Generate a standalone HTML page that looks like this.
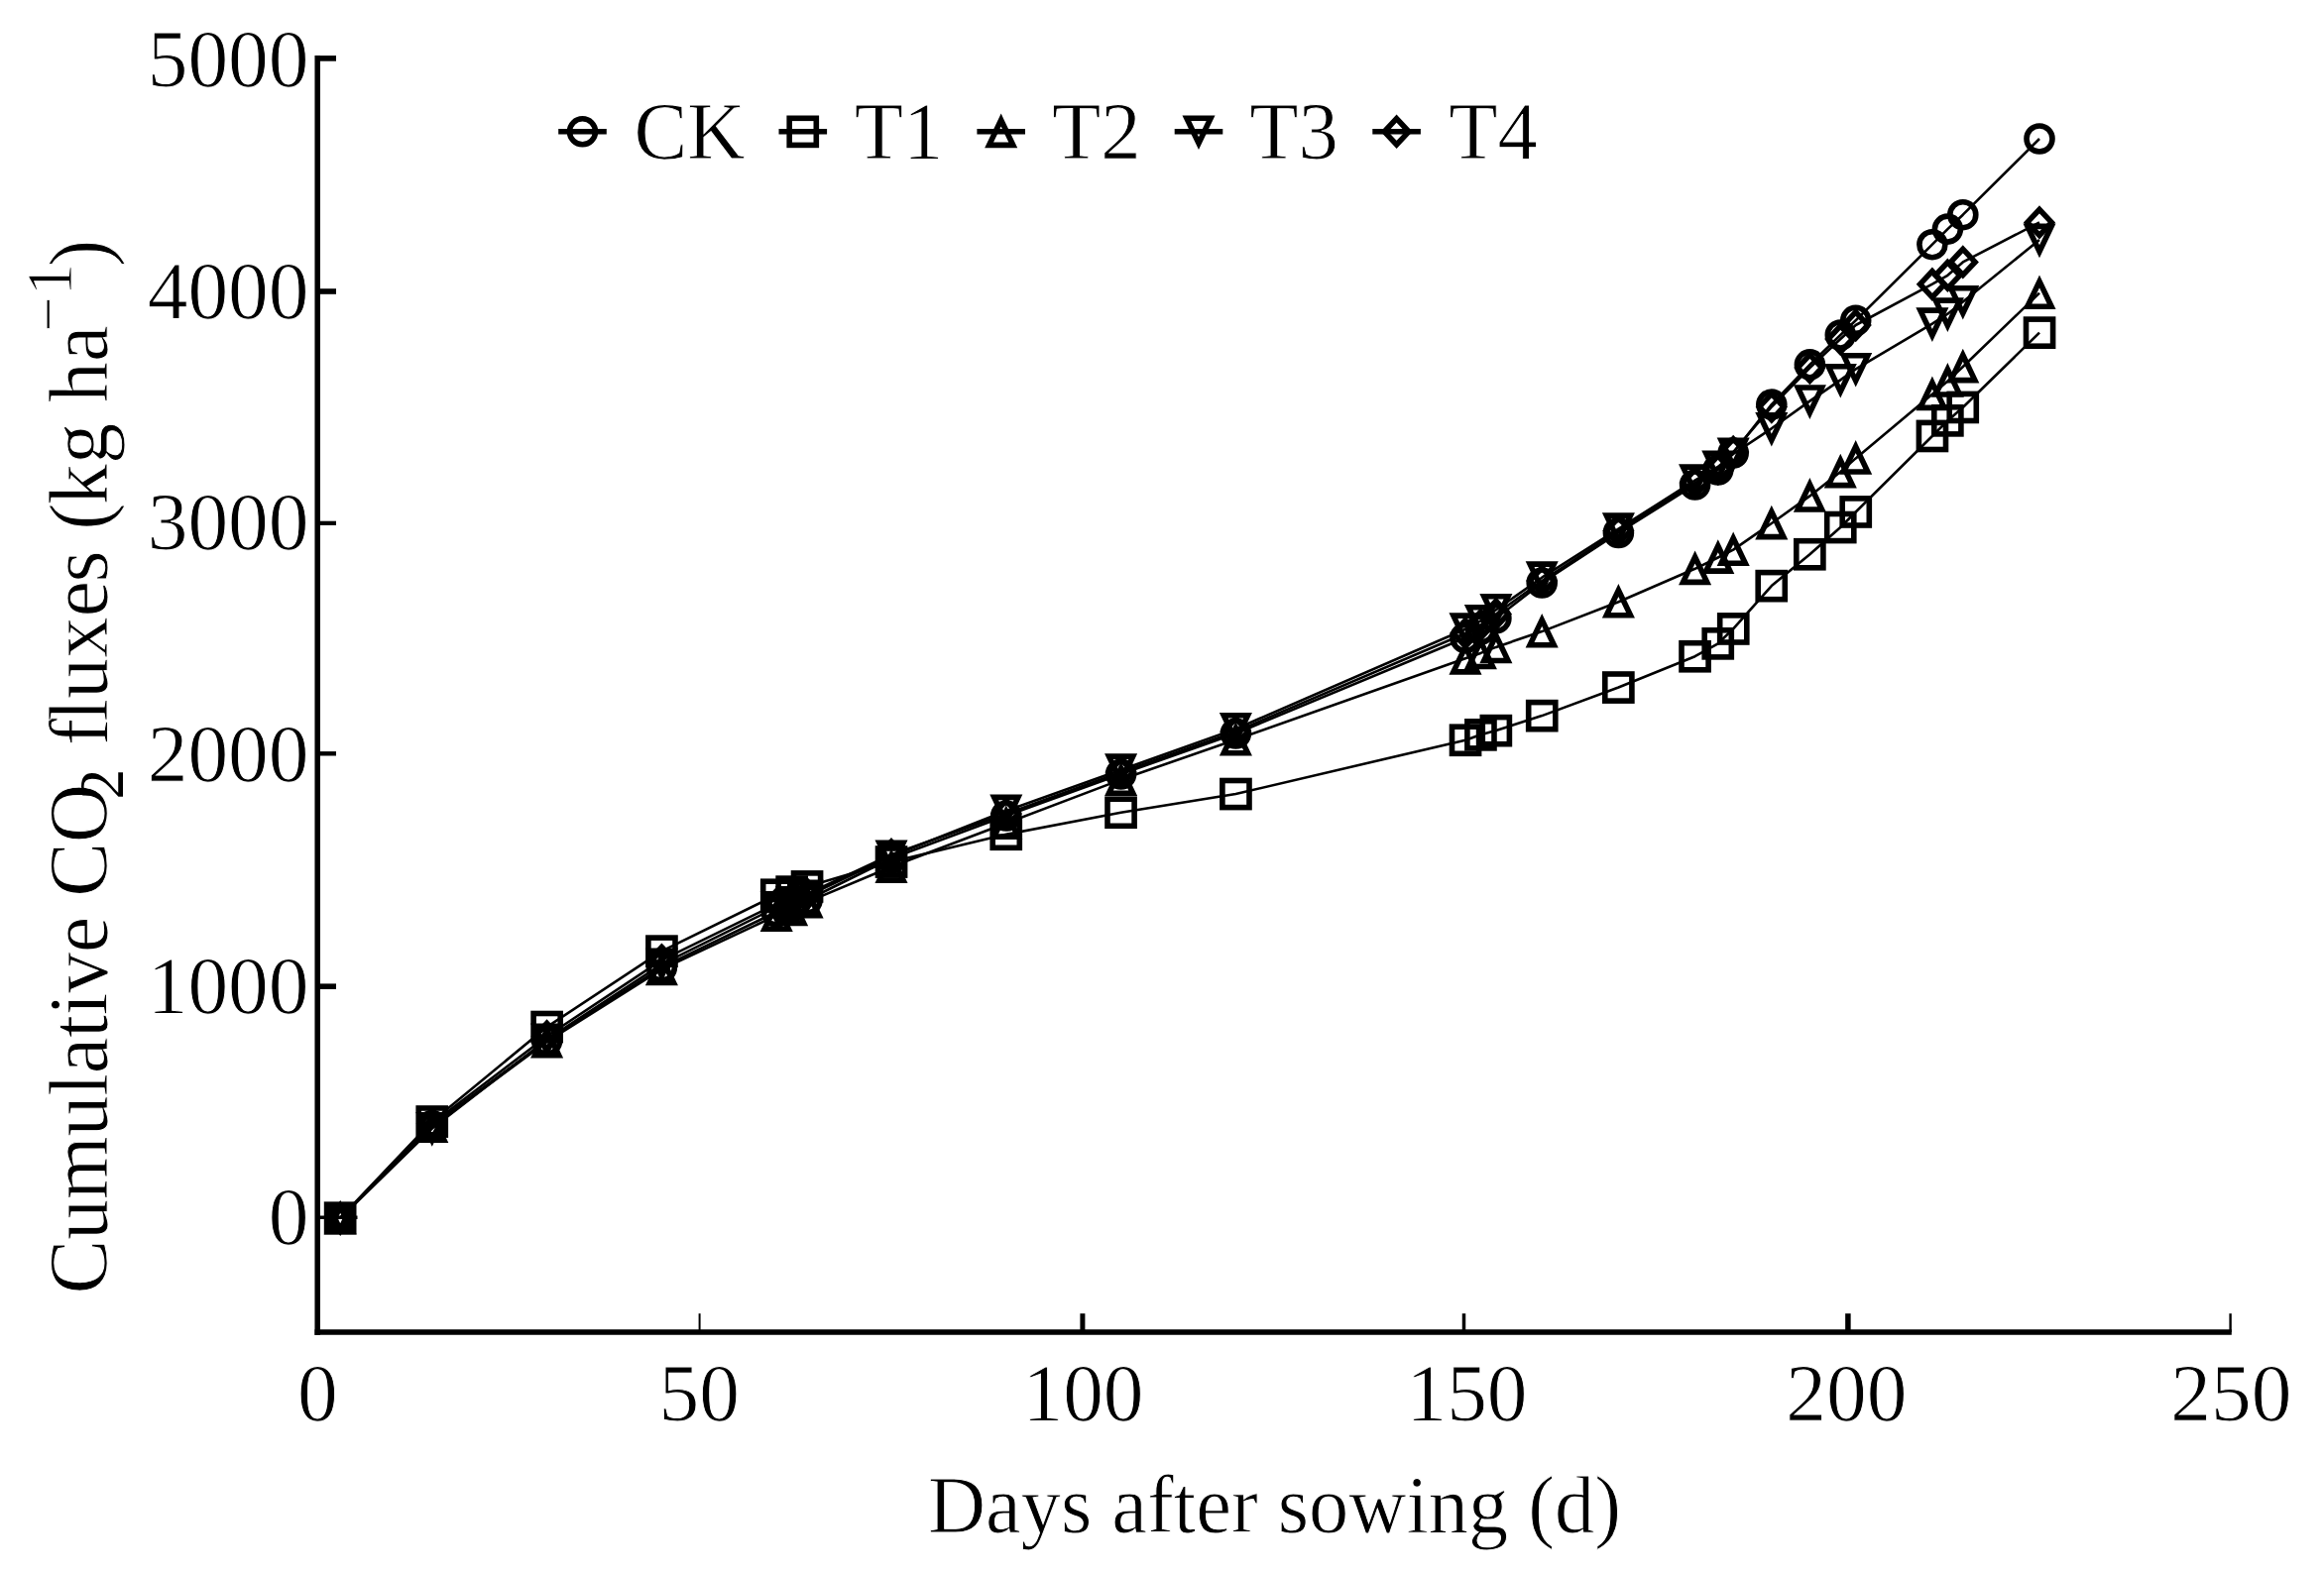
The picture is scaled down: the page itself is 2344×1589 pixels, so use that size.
<!DOCTYPE html>
<html lang="en"><head><meta charset="utf-8"><title>Cumulative CO2 fluxes</title>
<style>
html,body{margin:0;padding:0;background:#fff;}
body{width:2344px;height:1589px;overflow:hidden;}
svg{display:block;}
text{font-family:"Liberation Serif","Times New Roman",serif;fill:#000;stroke:#fff;stroke-width:0.9px;}
.ax{stroke:#000;stroke-width:5.5;fill:none;stroke-linecap:butt;}
.ln{stroke:#000;stroke-width:2.6;fill:none;stroke-linejoin:round;}
.mk{stroke:#000;stroke-width:5.6;fill:none;stroke-linejoin:miter;}
</style></head><body>
<svg width="2344" height="1589" viewBox="0 0 2344 1589">
<rect width="2344" height="1589" fill="#fff"/>

<path class="ax" d="M320.2 56.1V1346.9"/>
<path class="ax" d="M317.5 1344.1H2250.8"/>
<path d="M320 58.9H339" stroke="#000" stroke-width="5.6" fill="none"/>
<text transform="translate(311.5 87.2) scale(0.975 1)" font-size="83.5" text-anchor="end">5000</text>
<path d="M320 294.0H339" stroke="#000" stroke-width="5.6" fill="none"/>
<text transform="translate(311.5 320.8) scale(0.975 1)" font-size="83.5" text-anchor="end">4000</text>
<path d="M320 527.8H339" stroke="#000" stroke-width="4.2" fill="none"/>
<text transform="translate(311.5 554.4) scale(0.975 1)" font-size="83.5" text-anchor="end">3000</text>
<path d="M320 760.3H339" stroke="#000" stroke-width="4.4" fill="none"/>
<text transform="translate(311.5 788.0) scale(0.975 1)" font-size="83.5" text-anchor="end">2000</text>
<path d="M320 995.2H339" stroke="#000" stroke-width="5.6" fill="none"/>
<text transform="translate(311.5 1021.6) scale(0.975 1)" font-size="83.5" text-anchor="end">1000</text>
<path d="M320 1228.3H360.5" stroke="#000" stroke-width="3.4" fill="none"/>
<text transform="translate(311.5 1255.2) scale(0.975 1)" font-size="83.5" text-anchor="end">0</text>
<path d="M705.6 1325.2V1344" stroke="#000" stroke-width="2.0" fill="none"/>
<path d="M1091.9 1325.2V1344" stroke="#000" stroke-width="5.0" fill="none"/>
<path d="M1476.5 1325.2V1344" stroke="#000" stroke-width="3.5" fill="none"/>
<path d="M1863.9 1325.2V1344" stroke="#000" stroke-width="5.5" fill="none"/>
<path d="M2249.6 1325.2V1344" stroke="#000" stroke-width="2.4" fill="none"/>
<text transform="translate(320.3 1432.6) scale(0.975 1)" font-size="83.5" text-anchor="middle">0</text>
<text transform="translate(705.3 1432.6) scale(0.975 1)" font-size="83.5" text-anchor="middle">50</text>
<text transform="translate(1092.5 1432.6) scale(0.975 1)" font-size="83.5" text-anchor="middle">100</text>
<text transform="translate(1479.5 1432.6) scale(0.975 1)" font-size="83.5" text-anchor="middle">150</text>
<text transform="translate(1862.4 1432.6) scale(0.975 1)" font-size="83.5" text-anchor="middle">200</text>
<text transform="translate(2250.3 1432.6) scale(0.975 1)" font-size="83.5" text-anchor="middle">250</text>
<text transform="translate(1285.5 1545.5) scale(0.975 1)" font-size="82.5" text-anchor="middle">Days after sowing (d)</text>
<text transform="translate(108.0 1305.5) rotate(-90) scale(0.975 1)" font-size="84.5"><tspan x="0" y="0" letter-spacing="-0.4">Cumulative CO</tspan><tspan x="511.8" y="16" font-size="63" stroke="none">2</tspan><tspan x="567.4" y="0"> </tspan><tspan x="567.4" y="0">f</tspan><tspan dx="-3">luxe</tspan><tspan dx="-1.5">s (</tspan><tspan dx="-2">kg ha</tspan><tspan x="995.9" y="-38" font-size="64">−</tspan><tspan x="1033.3" y="-36.5" font-size="66">1</tspan><tspan x="1063.1" y="0">)</tspan></text>
<path d="M563.2 132.8H611.8" stroke="#000" stroke-width="5.5" fill="none"/>
<g class="mk"><circle cx="587.5" cy="132.8" r="13.0"/></g>
<text transform="translate(639.5 159.7) scale(0.975 1)" font-size="82.8" text-anchor="start">CK</text>
<path d="M785.5 132.8H834.1" stroke="#000" stroke-width="5.5" fill="none"/>
<g class="mk"><rect x="796.2" y="119.3" width="27.1" height="27.1"/></g>
<text transform="translate(861.8 159.7) scale(0.975 1)" font-size="82.8" text-anchor="start">T1</text>
<path d="M985.4 132.8H1034.0" stroke="#000" stroke-width="5.5" fill="none"/>
<g class="mk"><path d="M1009.7 121.1L1021.8 146.4L997.6 146.4Z"/></g>
<text transform="translate(1061.0 159.7) scale(0.975 1)" font-size="82.8" text-anchor="start">T2</text>
<path d="M1184.7 132.8H1233.3" stroke="#000" stroke-width="5.5" fill="none"/>
<g class="mk"><path d="M1209.0 144.6L1221.1 119.2L1196.9 119.2Z"/></g>
<text transform="translate(1260.3 159.7) scale(0.975 1)" font-size="82.8" text-anchor="start">T3</text>
<path d="M1384.3 132.8H1432.9" stroke="#000" stroke-width="5.5" fill="none"/>
<g class="mk"><path d="M1408.6 119.7L1420.9 132.8L1408.6 145.9L1396.3 132.8Z"/></g>
<text transform="translate(1461.2 159.7) scale(0.975 1)" font-size="82.8" text-anchor="start">T4</text>
<polyline class="ln" points="343.2,1229.0 435.8,1135.5 551.6,1050.0 667.4,976.0 783.2,920.0 798.6,915.0 814.1,908.0 899.0,866.0 1014.8,823.0 1130.6,781.0 1246.4,740.0 1478.0,643.5 1493.4,635.0 1508.9,623.8 1555.2,588.0 1632.4,537.5 1709.6,489.0 1732.8,474.0 1748.2,457.0 1786.8,408.1 1825.4,367.9 1856.3,338.0 1871.7,323.3 1948.9,246.7 1964.4,231.1 1979.8,216.7 2057.0,140.0"/>
<g class="mk"><circle cx="343.2" cy="1229.0" r="13.0"/><circle cx="435.8" cy="1135.5" r="13.0"/><circle cx="551.6" cy="1050.0" r="13.0"/><circle cx="667.4" cy="976.0" r="13.0"/><circle cx="783.2" cy="920.0" r="13.0"/><circle cx="798.6" cy="915.0" r="13.0"/><circle cx="814.1" cy="908.0" r="13.0"/><circle cx="899.0" cy="866.0" r="13.0"/><circle cx="1014.8" cy="823.0" r="13.0"/><circle cx="1130.6" cy="781.0" r="13.0"/><circle cx="1246.4" cy="740.0" r="13.0"/><circle cx="1478.0" cy="643.5" r="13.0"/><circle cx="1493.4" cy="635.0" r="13.0"/><circle cx="1508.9" cy="623.8" r="13.0"/><circle cx="1555.2" cy="588.0" r="13.0"/><circle cx="1632.4" cy="537.5" r="13.0"/><circle cx="1709.6" cy="489.0" r="13.0"/><circle cx="1732.8" cy="474.0" r="13.0"/><circle cx="1748.2" cy="457.0" r="13.0"/><circle cx="1786.8" cy="408.1" r="13.0"/><circle cx="1825.4" cy="367.9" r="13.0"/><circle cx="1856.3" cy="338.0" r="13.0"/><circle cx="1871.7" cy="323.3" r="13.0"/><circle cx="1948.9" cy="246.7" r="13.0"/><circle cx="1964.4" cy="231.1" r="13.0"/><circle cx="1979.8" cy="216.7" r="13.0"/><circle cx="2057.0" cy="140.0" r="13.0"/></g>
<polyline class="ln" points="343.2,1229.0 435.8,1131.5 551.6,1036.1 667.4,959.6 783.2,902.8 798.6,899.6 814.1,894.4 899.0,869.5 1014.8,841.8 1130.6,819.8 1246.4,801.0 1478.0,746.7 1493.4,741.3 1508.9,737.1 1555.2,722.1 1632.4,693.5 1709.6,662.2 1732.8,649.3 1748.2,634.4 1786.8,591.1 1825.4,559.2 1856.3,532.0 1871.7,516.5 1948.9,440.0 1964.4,424.4 1979.8,411.0 2057.0,335.6"/>
<g class="mk"><rect x="329.6" y="1215.5" width="27.1" height="27.1"/><rect x="422.2" y="1118.0" width="27.1" height="27.1"/><rect x="538.1" y="1022.5" width="27.1" height="27.1"/><rect x="653.9" y="946.1" width="27.1" height="27.1"/><rect x="769.7" y="889.2" width="27.1" height="27.1"/><rect x="785.1" y="886.1" width="27.1" height="27.1"/><rect x="800.5" y="880.9" width="27.1" height="27.1"/><rect x="885.5" y="856.0" width="27.1" height="27.1"/><rect x="1001.2" y="828.2" width="27.1" height="27.1"/><rect x="1117.0" y="806.2" width="27.1" height="27.1"/><rect x="1232.9" y="787.5" width="27.1" height="27.1"/><rect x="1464.5" y="733.2" width="27.1" height="27.1"/><rect x="1479.9" y="727.8" width="27.1" height="27.1"/><rect x="1495.3" y="723.6" width="27.1" height="27.1"/><rect x="1541.7" y="708.6" width="27.1" height="27.1"/><rect x="1618.8" y="680.0" width="27.1" height="27.1"/><rect x="1696.0" y="648.7" width="27.1" height="27.1"/><rect x="1719.2" y="635.8" width="27.1" height="27.1"/><rect x="1734.7" y="620.9" width="27.1" height="27.1"/><rect x="1773.2" y="577.6" width="27.1" height="27.1"/><rect x="1811.8" y="545.7" width="27.1" height="27.1"/><rect x="1842.7" y="518.5" width="27.1" height="27.1"/><rect x="1858.2" y="502.9" width="27.1" height="27.1"/><rect x="1935.4" y="426.4" width="27.1" height="27.1"/><rect x="1950.8" y="410.8" width="27.1" height="27.1"/><rect x="1966.2" y="397.4" width="27.1" height="27.1"/><rect x="2043.5" y="322.1" width="27.1" height="27.1"/></g>
<polyline class="ln" points="343.2,1229.0 435.8,1136.5 551.6,1051.0 667.4,977.9 783.2,923.6 798.6,917.8 814.1,910.1 899.0,874.5 1014.8,830.5 1130.6,786.6 1246.4,746.2 1478.0,664.3 1493.4,658.9 1508.9,652.9 1555.2,637.1 1632.4,607.2 1709.6,573.8 1732.8,562.5 1748.2,554.6 1786.8,528.0 1825.4,500.4 1856.3,476.0 1871.7,462.4 1948.9,397.8 1964.4,384.4 1979.8,370.0 2057.0,295.6"/>
<g class="mk"><path d="M343.2 1217.2L355.3 1242.6L331.1 1242.6Z"/><path d="M435.8 1124.8L447.9 1150.1L423.7 1150.1Z"/><path d="M551.6 1039.2L563.7 1064.6L539.5 1064.6Z"/><path d="M667.4 966.1L679.5 991.5L655.3 991.5Z"/><path d="M783.2 911.9L795.3 937.2L771.1 937.2Z"/><path d="M798.6 906.0L810.7 931.4L786.5 931.4Z"/><path d="M814.1 898.4L826.2 923.7L802.0 923.7Z"/><path d="M899.0 862.8L911.1 888.1L886.9 888.1Z"/><path d="M1014.8 818.8L1026.9 844.1L1002.7 844.1Z"/><path d="M1130.6 774.9L1142.7 800.2L1118.5 800.2Z"/><path d="M1246.4 734.5L1258.5 759.8L1234.3 759.8Z"/><path d="M1478.0 652.5L1490.1 677.9L1465.9 677.9Z"/><path d="M1493.4 647.1L1505.5 672.5L1481.3 672.5Z"/><path d="M1508.9 641.1L1521.0 666.5L1496.8 666.5Z"/><path d="M1555.2 625.4L1567.3 650.7L1543.1 650.7Z"/><path d="M1632.4 595.5L1644.5 620.8L1620.3 620.8Z"/><path d="M1709.6 562.0L1721.7 587.4L1697.5 587.4Z"/><path d="M1732.8 550.8L1744.9 576.1L1720.7 576.1Z"/><path d="M1748.2 542.9L1760.3 568.2L1736.1 568.2Z"/><path d="M1786.8 516.2L1798.9 541.6L1774.7 541.6Z"/><path d="M1825.4 488.6L1837.5 514.0L1813.3 514.0Z"/><path d="M1856.3 464.2L1868.4 489.6L1844.2 489.6Z"/><path d="M1871.7 450.6L1883.8 476.0L1859.6 476.0Z"/><path d="M1948.9 386.1L1961.0 411.4L1936.8 411.4Z"/><path d="M1964.4 372.6L1976.5 398.0L1952.3 398.0Z"/><path d="M1979.8 358.2L1991.9 383.6L1967.7 383.6Z"/><path d="M2057.0 283.9L2069.1 309.2L2044.9 309.2Z"/></g>
<polyline class="ln" points="343.2,1229.0 435.8,1138.5 551.6,1048.8 667.4,972.8 783.2,915.4 798.6,910.5 814.1,904.0 899.0,863.8 1014.8,818.0 1130.6,776.7 1246.4,735.4 1478.0,634.7 1493.4,626.4 1508.9,615.3 1555.2,582.7 1632.4,533.7 1709.6,484.7 1732.8,470.9 1748.2,458.0 1786.8,432.3 1825.4,404.6 1856.3,383.4 1871.7,372.4 1948.9,326.7 1964.4,316.7 1979.8,304.4 2057.0,242.0"/>
<g class="mk"><path d="M343.2 1240.8L355.3 1215.4L331.1 1215.4Z"/><path d="M435.8 1150.2L447.9 1124.9L423.7 1124.9Z"/><path d="M551.6 1060.5L563.7 1035.2L539.5 1035.2Z"/><path d="M667.4 984.5L679.5 959.2L655.3 959.2Z"/><path d="M783.2 927.1L795.3 901.8L771.1 901.8Z"/><path d="M798.6 922.2L810.7 896.9L786.5 896.9Z"/><path d="M814.1 915.8L826.2 890.4L802.0 890.4Z"/><path d="M899.0 875.5L911.1 850.2L886.9 850.2Z"/><path d="M1014.8 829.8L1026.9 804.4L1002.7 804.4Z"/><path d="M1130.6 788.5L1142.7 763.1L1118.5 763.1Z"/><path d="M1246.4 747.1L1258.5 721.8L1234.3 721.8Z"/><path d="M1478.0 646.5L1490.1 621.1L1465.9 621.1Z"/><path d="M1493.4 638.1L1505.5 612.8L1481.3 612.8Z"/><path d="M1508.9 627.0L1521.0 601.7L1496.8 601.7Z"/><path d="M1555.2 594.5L1567.3 569.1L1543.1 569.1Z"/><path d="M1632.4 545.5L1644.5 520.1L1620.3 520.1Z"/><path d="M1709.6 496.4L1721.7 471.1L1697.5 471.1Z"/><path d="M1732.8 482.6L1744.9 457.3L1720.7 457.3Z"/><path d="M1748.2 469.8L1760.3 444.4L1736.1 444.4Z"/><path d="M1786.8 444.1L1798.9 418.7L1774.7 418.7Z"/><path d="M1825.4 416.4L1837.5 391.0L1813.3 391.0Z"/><path d="M1856.3 395.1L1868.4 369.8L1844.2 369.8Z"/><path d="M1871.7 384.1L1883.8 358.8L1859.6 358.8Z"/><path d="M1948.9 338.4L1961.0 313.1L1936.8 313.1Z"/><path d="M1964.4 328.4L1976.5 303.1L1952.3 303.1Z"/><path d="M1979.8 316.1L1991.9 290.8L1967.7 290.8Z"/><path d="M2057.0 253.8L2069.1 228.4L2044.9 228.4Z"/></g>
<polyline class="ln" points="343.2,1229.0 435.8,1133.5 551.6,1045.5 667.4,968.6 783.2,912.0 798.6,908.0 814.1,902.0 899.0,862.2 1014.8,821.0 1130.6,779.0 1246.4,738.0 1478.0,639.0 1493.4,630.5 1508.9,619.5 1555.2,586.0 1632.4,535.5 1709.6,487.0 1732.8,473.0 1748.2,456.0 1786.8,410.5 1825.4,371.0 1856.3,342.0 1871.7,328.0 1948.9,286.7 1964.4,277.8 1979.8,264.4 2057.0,224.4"/>
<g class="mk"><path d="M343.2 1215.9L355.5 1229.0L343.2 1242.1L330.9 1229.0Z"/><path d="M435.8 1120.4L448.1 1133.5L435.8 1146.6L423.5 1133.5Z"/><path d="M551.6 1032.4L563.9 1045.5L551.6 1058.6L539.3 1045.5Z"/><path d="M667.4 955.5L679.7 968.6L667.4 981.7L655.1 968.6Z"/><path d="M783.2 898.9L795.5 912.0L783.2 925.1L770.9 912.0Z"/><path d="M798.6 894.9L810.9 908.0L798.6 921.1L786.3 908.0Z"/><path d="M814.1 888.9L826.4 902.0L814.1 915.1L801.8 902.0Z"/><path d="M899.0 849.1L911.3 862.2L899.0 875.3L886.7 862.2Z"/><path d="M1014.8 807.9L1027.1 821.0L1014.8 834.1L1002.5 821.0Z"/><path d="M1130.6 765.9L1142.9 779.0L1130.6 792.1L1118.3 779.0Z"/><path d="M1246.4 724.9L1258.7 738.0L1246.4 751.1L1234.1 738.0Z"/><path d="M1478.0 625.9L1490.3 639.0L1478.0 652.1L1465.7 639.0Z"/><path d="M1493.4 617.4L1505.7 630.5L1493.4 643.6L1481.1 630.5Z"/><path d="M1508.9 606.4L1521.2 619.5L1508.9 632.6L1496.6 619.5Z"/><path d="M1555.2 572.9L1567.5 586.0L1555.2 599.1L1542.9 586.0Z"/><path d="M1632.4 522.4L1644.7 535.5L1632.4 548.6L1620.1 535.5Z"/><path d="M1709.6 473.9L1721.9 487.0L1709.6 500.1L1697.3 487.0Z"/><path d="M1732.8 459.9L1745.1 473.0L1732.8 486.1L1720.5 473.0Z"/><path d="M1748.2 442.9L1760.5 456.0L1748.2 469.1L1735.9 456.0Z"/><path d="M1786.8 397.4L1799.1 410.5L1786.8 423.6L1774.5 410.5Z"/><path d="M1825.4 357.9L1837.7 371.0L1825.4 384.1L1813.1 371.0Z"/><path d="M1856.3 328.9L1868.6 342.0L1856.3 355.1L1844.0 342.0Z"/><path d="M1871.7 314.9L1884.0 328.0L1871.7 341.1L1859.4 328.0Z"/><path d="M1948.9 273.6L1961.2 286.7L1948.9 299.8L1936.6 286.7Z"/><path d="M1964.4 264.7L1976.7 277.8L1964.4 290.9L1952.1 277.8Z"/><path d="M1979.8 251.3L1992.1 264.4L1979.8 277.5L1967.5 264.4Z"/><path d="M2057.0 211.3L2069.3 224.4L2057.0 237.5L2044.7 224.4Z"/></g>
</svg></body></html>
